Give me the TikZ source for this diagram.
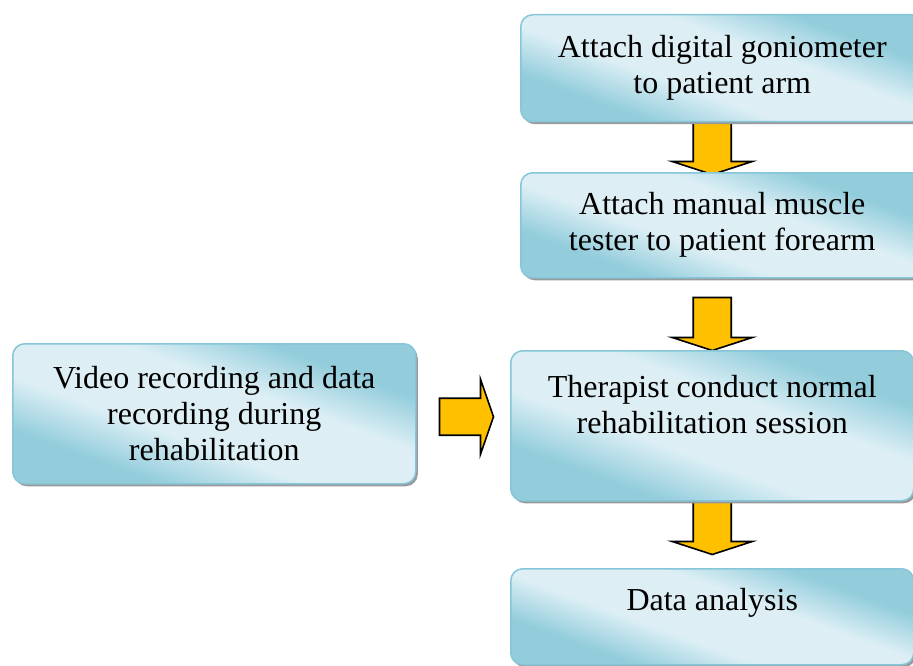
\documentclass[tikz,border=0pt]{standalone}
\usepackage{fontspec}
\setmainfont{Liberation Serif}
\newfontfamily\boxfont{Liberation Serif}
\usetikzlibrary{calc,shadows,backgrounds}
\definecolor{boxdark}{HTML}{93CDDC}
\definecolor{boxlight}{HTML}{DDEFF5}
\definecolor{boxline}{HTML}{86C6D8}
\definecolor{arrowfill}{HTML}{FFC000}
\pgfdeclareverticalshading{boxshade}{100bp}{color(0bp)=(boxdark); color(30bp)=(boxdark); color(42bp)=(boxlight); color(58bp)=(boxlight); color(70bp)=(boxdark); color(100bp)=(boxdark)}
\tikzset{
  flowbox/.style={rounded corners=12pt, draw=boxline, line width=1.5pt,
    shade, shading=boxshade, shading angle=-20,
    drop shadow={shadow xshift=2pt, shadow yshift=-2.5pt, fill=black!40, opacity=1},
    minimum width=403pt, inner sep=0pt, anchor=north west, align=center,
    font=\boxfont\fontsize{32}{36}\selectfont},
  flowtext/.style={inner sep=0pt, align=center, font=\boxfont\fontsize{32}{36}\selectfont},
  blockarrow/.style={fill=arrowfill, draw=black, line width=1.6pt, line join=miter}
}
\begin{document}
\begin{tikzpicture}[x=1pt,y=-1pt]
\useasboundingbox (0,0) rectangle (913,666);
\node[flowbox, minimum height=107pt] (b1) at (520,14) {Attach digital goniometer\\to patient arm};
\node[flowbox, minimum height=105pt] (b2) at (520,172) {Attach manual muscle\\tester to patient forearm};
\node[flowbox, minimum height=140pt] (b0) at (12,343) {Video recording and data\\recording during\\rehabilitation};
\node[flowbox, minimum height=150pt] (b3) at (510,350) {};
\node[flowtext] (t3) at ($(b3.center)+(0,-21)$) {Therapist conduct normal\\rehabilitation session};
\node[flowbox, minimum height=96pt] (b4) at (510,568) {};
\node[flowtext] (t4) at ($(b4.center)+(0,-14)$) {Data analysis};
\coordinate (a1) at ($(b3.center |- b1.south)+(0,-1)$);
\coordinate (a2) at ($(b3.center |- b2.south)+(0,19)$);
\coordinate (a3) at ($(b3.center |- b3.south)+(0,-2)$);
\coordinate (a0) at ($(b0.east)+(23,3)$);
\begin{pgfonlayer}{background}
\draw[blockarrow] (a1) ++(-19,0) -- ++(38,0) -- ++(0,40) -- ++(21,0) -- ++(-40,13) -- ++(-40,-13) -- ++(21,0) -- cycle;
\draw[blockarrow] (a2) ++(-19,0) -- ++(38,0) -- ++(0,40) -- ++(21,0) -- ++(-40,13) -- ++(-40,-13) -- ++(21,0) -- cycle;
\draw[blockarrow] (a3) ++(-19,0) -- ++(38,0) -- ++(0,42) -- ++(21,0) -- ++(-40,13) -- ++(-40,-13) -- ++(21,0) -- cycle;
\end{pgfonlayer}
\draw[blockarrow] (a0) ++(0,-18.5) -- ++(41,0) -- ++(0,-19) -- ++(13,37.5) -- ++(-13,37.5) -- ++(0,-19) -- ++(-41,0) -- cycle;
\end{tikzpicture}
\end{document}
